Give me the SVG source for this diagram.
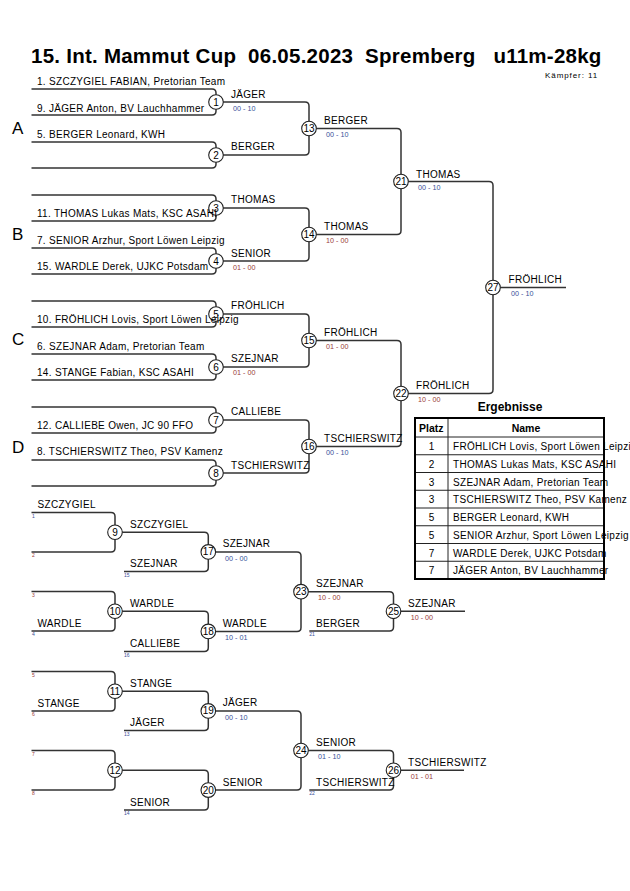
<svg xmlns="http://www.w3.org/2000/svg" width="630" height="891" viewBox="0 0 630 891">
<style>
.ln{fill:none;stroke:#333;stroke-width:1.5}
.c{fill:#fff;stroke:#222;stroke-width:1.1}
.n{font-family:"Liberation Sans",Arial,sans-serif;font-size:10px;text-anchor:middle;fill:#000}
.t{font-family:"Liberation Sans",Arial,sans-serif;font-size:10px;letter-spacing:0.3px;fill:#000}
.s{font-family:"Liberation Sans",Arial,sans-serif;font-size:7.2px}
.sr{fill:#9a3a3a}
.sb{fill:#3a4f9a}
.tiny{font-family:"Liberation Sans",Arial,sans-serif;font-size:5px}
.pool{font-family:"Liberation Sans",Arial,sans-serif;font-size:17px;fill:#000}
.b{font-family:"Liberation Sans",Arial,sans-serif;font-weight:bold;fill:#000}
.tl{fill:none;stroke:#222;stroke-width:1}
</style>
<rect width="630" height="891" fill="#fff"/>
<g id="title">
<text class="b" x="31" y="63.3" font-size="20.5" letter-spacing="0.25" xml:space="preserve">15. Int. Mammut Cup  06.05.2023  Spremberg   u11m-28kg</text>
<text x="598" y="78" font-family="Liberation Sans, Arial, sans-serif" font-size="8" letter-spacing="0.9" text-anchor="end">Kämpfer: 11</text>
</g>
<g id="pools">
<text class="pool" x="12" y="134">A</text>
<text class="pool" x="12" y="240">B</text>
<text class="pool" x="12" y="345">C</text>
<text class="pool" x="12" y="452.5">D</text>
</g>
<g id="connectors">
<path class="ln" d="M31.5,89 H212 Q216,89 216,93 V111 Q216,115 212,115 H31.5"/>
<path class="ln" d="M31.5,142 H212 Q216,142 216,146 V164 Q216,168 212,168 H31.5"/>
<path class="ln" d="M31.5,195 H212 Q216,195 216,199 V217 Q216,221 212,221 H31.5"/>
<path class="ln" d="M31.5,248 H212 Q216,248 216,252 V270 Q216,274 212,274 H31.5"/>
<path class="ln" d="M31.5,301 H212 Q216,301 216,305 V323 Q216,327 212,327 H31.5"/>
<path class="ln" d="M31.5,354 H212 Q216,354 216,358 V376 Q216,380 212,380 H31.5"/>
<path class="ln" d="M31.5,407 H212 Q216,407 216,411 V429 Q216,433 212,433 H31.5"/>
<path class="ln" d="M31.5,460 H212 Q216,460 216,464 V482 Q216,486 212,486 H31.5"/>
<path class="ln" d="M216,102 H305 Q309,102 309,106 V151 Q309,155 305,155 H216"/>
<path class="ln" d="M216,208 H305 Q309,208 309,212 V257 Q309,261 305,261 H216"/>
<path class="ln" d="M216,314 H305 Q309,314 309,318 V363 Q309,367 305,367 H216"/>
<path class="ln" d="M216,420 H305 Q309,420 309,424 V469 Q309,473 305,473 H216"/>
<path class="ln" d="M309,128.5 H397 Q401,128.5 401,132.5 V230.5 Q401,234.5 397,234.5 H309"/>
<path class="ln" d="M309,340.5 H397 Q401,340.5 401,344.5 V442.5 Q401,446.5 397,446.5 H309"/>
<path class="ln" d="M401,181.5 H489 Q493,181.5 493,185.5 V389.5 Q493,393.5 489,393.5 H401"/>
<path class="ln" d="M493,287.5 H566"/>
<path class="ln" d="M31.5,512.5 H111 Q115,512.5 115,516.5 V548 Q115,552 111,552 H31.5"/>
<path class="ln" d="M115,532.25 H204.3 Q208.3,532.25 208.3,536.25 V567.5 Q208.3,571.5 204.3,571.5 H124"/>
<path class="ln" d="M31.5,591.5 H111 Q115,591.5 115,595.5 V627 Q115,631 111,631 H31.5"/>
<path class="ln" d="M115,611.25 H204.3 Q208.3,611.25 208.3,615.25 V647.5 Q208.3,651.5 204.3,651.5 H124"/>
<path class="ln" d="M208.3,551.9 H297 Q301,551.9 301,555.9 V627.4 Q301,631.4 297,631.4 H208.3"/>
<path class="ln" d="M301,591.65 H389.5 Q393.5,591.65 393.5,595.65 V627 Q393.5,631 389.5,631 H309.3"/>
<path class="ln" d="M393.5,611.3 H465"/>
<path class="ln" d="M31.5,671.5 H111 Q115,671.5 115,675.5 V707 Q115,711 111,711 H31.5"/>
<path class="ln" d="M115,691.25 H204.3 Q208.3,691.25 208.3,695.25 V726.5 Q208.3,730.5 204.3,730.5 H124"/>
<path class="ln" d="M31.5,750.5 H111 Q115,750.5 115,754.5 V786 Q115,790 111,790 H31.5"/>
<path class="ln" d="M115,770.25 H204.3 Q208.3,770.25 208.3,774.25 V806 Q208.3,810 204.3,810 H124"/>
<path class="ln" d="M208.3,710.9 H297 Q301,710.9 301,714.9 V786.1 Q301,790.1 297,790.1 H208.3"/>
<path class="ln" d="M301,750.5 H389.5 Q393.5,750.5 393.5,754.5 V786 Q393.5,790 389.5,790 H309.3"/>
<path class="ln" d="M393.5,770.25 H464"/>
</g>
<g id="match1"><circle class="c" cx="216" cy="102" r="7.3"/><text class="n" x="216" y="105.5">1</text><text class="t" x="231" y="97.5">JÄGER</text><text class="s sb" x="233" y="110.7">00 - 10</text></g>
<g id="match2"><circle class="c" cx="216" cy="155" r="7.3"/><text class="n" x="216" y="158.5">2</text><text class="t" x="231" y="150.3">BERGER</text></g>
<g id="match3"><circle class="c" cx="216" cy="208" r="7.3"/><text class="n" x="216" y="211.5">3</text><text class="t" x="231" y="203.3">THOMAS</text></g>
<g id="match4"><circle class="c" cx="216" cy="261" r="7.3"/><text class="n" x="216" y="264.5">4</text><text class="t" x="231" y="256.5">SENIOR</text><text class="s sr" x="233" y="269.5">01 - 00</text></g>
<g id="match5"><circle class="c" cx="216" cy="314" r="7.3"/><text class="n" x="216" y="317.5">5</text><text class="t" x="231" y="309.3">FRÖHLICH</text></g>
<g id="match6"><circle class="c" cx="216" cy="367" r="7.3"/><text class="n" x="216" y="370.5">6</text><text class="t" x="231" y="362">SZEJNAR</text><text class="s sr" x="233" y="375.3">01 - 00</text></g>
<g id="match7"><circle class="c" cx="216" cy="420" r="7.3"/><text class="n" x="216" y="423.5">7</text><text class="t" x="231" y="415.3">CALLIEBE</text></g>
<g id="match8"><circle class="c" cx="216" cy="473" r="7.3"/><text class="n" x="216" y="476.5">8</text><text class="t" x="231" y="469">TSCHIERSWITZ</text></g>
<g id="match13"><circle class="c" cx="309" cy="128.5" r="7.3"/><text class="n" x="309" y="132">13</text><text class="t" x="324" y="124.3">BERGER</text><text class="s sb" x="326" y="137">00 - 10</text></g>
<g id="match14"><circle class="c" cx="309" cy="234.5" r="7.3"/><text class="n" x="309" y="238">14</text><text class="t" x="324" y="230.2">THOMAS</text><text class="s sr" x="326" y="243.3">10 - 00</text></g>
<g id="match15"><circle class="c" cx="309" cy="340.5" r="7.3"/><text class="n" x="309" y="344">15</text><text class="t" x="324" y="336">FRÖHLICH</text><text class="s sr" x="326" y="349">01 - 00</text></g>
<g id="match16"><circle class="c" cx="309" cy="446.5" r="7.3"/><text class="n" x="309" y="450">16</text><text class="t" x="324" y="441.5">TSCHIERSWITZ</text><text class="s sb" x="326" y="455">00 - 10</text></g>
<g id="match21"><circle class="c" cx="401" cy="181.5" r="7.3"/><text class="n" x="401" y="185">21</text><text class="t" x="416" y="177.5">THOMAS</text><text class="s sb" x="418" y="190">00 - 10</text></g>
<g id="match22"><circle class="c" cx="401" cy="393.5" r="7.3"/><text class="n" x="401" y="397">22</text><text class="t" x="416" y="388.7">FRÖHLICH</text><text class="s sr" x="418" y="402">10 - 00</text></g>
<g id="match27"><circle class="c" cx="493" cy="287.5" r="7.3"/><text class="n" x="493" y="291">27</text><text class="t" x="508.5" y="283">FRÖHLICH</text><text class="s sb" x="511" y="296">00 - 10</text></g>
<g id="entries">
<text class="t" x="37" y="85">1. SZCZYGIEL FABIAN, Pretorian Team</text>
<text class="t" x="37" y="111.5">9. JÄGER Anton, BV Lauchhammer</text>
<text class="t" x="37" y="138">5. BERGER Leonard, KWH</text>
<text class="t" x="37" y="217">11. THOMAS Lukas Mats, KSC ASAHI</text>
<text class="t" x="37" y="243.5">7. SENIOR Arzhur, Sport Löwen Leipzig</text>
<text class="t" x="37" y="270">15. WARDLE Derek, UJKC Potsdam</text>
<text class="t" x="37" y="323">10. FRÖHLICH Lovis, Sport Löwen Leipzig</text>
<text class="t" x="37" y="349.5">6. SZEJNAR Adam, Pretorian Team</text>
<text class="t" x="37" y="375.5">14. STANGE Fabian, KSC ASAHI</text>
<text class="t" x="37" y="428.5">12. CALLIEBE Owen, JC 90 FFO</text>
<text class="t" x="37" y="455">8. TSCHIERSWITZ Theo, PSV Kamenz</text>
</g>
<g id="repechage-entries">
<text class="t" x="37.5" y="508">SZCZYGIEL</text>
<text class="t" x="37.5" y="626.7">WARDLE</text>
<text class="t" x="37.5" y="706.7">STANGE</text>
<text class="t" x="130" y="567">SZEJNAR</text>
<text class="t" x="130" y="646.7">CALLIEBE</text>
<text class="t" x="130" y="726">JÄGER</text>
<text class="t" x="130" y="805.7">SENIOR</text>
<text class="t" x="316" y="626.7">BERGER</text>
<text class="t" x="316" y="785.7">TSCHIERSWITZ</text>
<text class="tiny sb" x="32" y="517.5">1</text>
<text class="tiny sr" x="32" y="557">2</text>
<text class="tiny sr" x="32" y="596.5">3</text>
<text class="tiny sb" x="32" y="636">4</text>
<text class="tiny sr" x="32" y="676.5">5</text>
<text class="tiny sr" x="32" y="716">6</text>
<text class="tiny sr" x="32" y="755.5">7</text>
<text class="tiny sr" x="32" y="795">8</text>
<text class="tiny sb" x="124" y="576.5">15</text>
<text class="tiny sb" x="124" y="656.5">16</text>
<text class="tiny sb" x="124" y="735.5">13</text>
<text class="tiny sb" x="124" y="815">14</text>
<text class="tiny sb" x="309.3" y="636">21</text>
<text class="tiny sb" x="309.3" y="795">22</text>
</g>
<g id="match9"><circle class="c" cx="115" cy="532.25" r="7.3"/><text class="n" x="115" y="535.75">9</text><text class="t" x="130" y="527.5">SZCZYGIEL</text></g>
<g id="match10"><circle class="c" cx="115" cy="611.25" r="7.3"/><text class="n" x="115" y="614.75">10</text><text class="t" x="130" y="606.7">WARDLE</text></g>
<g id="match11"><circle class="c" cx="115" cy="691.25" r="7.3"/><text class="n" x="115" y="694.75">11</text><text class="t" x="130" y="686.5">STANGE</text></g>
<g id="match12"><circle class="c" cx="115" cy="770.25" r="7.3"/><text class="n" x="115" y="773.75">12</text></g>
<g id="match17"><circle class="c" cx="208.3" cy="551.9" r="7.3"/><text class="n" x="208.3" y="555.4">17</text><text class="t" x="222.7" y="547.3">SZEJNAR</text><text class="s sb" x="225" y="560.5">00 - 00</text></g>
<g id="match18"><circle class="c" cx="208.3" cy="631.4" r="7.3"/><text class="n" x="208.3" y="634.9">18</text><text class="t" x="222.7" y="626.9">WARDLE</text><text class="s sb" x="225" y="640">10 - 01</text></g>
<g id="match19"><circle class="c" cx="208.3" cy="710.9" r="7.3"/><text class="n" x="208.3" y="714.4">19</text><text class="t" x="222.7" y="706.3">JÄGER</text><text class="s sb" x="225" y="719.5">00 - 10</text></g>
<g id="match20"><circle class="c" cx="208.3" cy="790.1" r="7.3"/><text class="n" x="208.3" y="793.6">20</text><text class="t" x="222.7" y="785.7">SENIOR</text></g>
<g id="match23"><circle class="c" cx="301" cy="591.65" r="7.3"/><text class="n" x="301" y="595.15">23</text><text class="t" x="316" y="587.3">SZEJNAR</text><text class="s sr" x="318" y="600">10 - 00</text></g>
<g id="match24"><circle class="c" cx="301" cy="750.5" r="7.3"/><text class="n" x="301" y="754">24</text><text class="t" x="316" y="746.3">SENIOR</text><text class="s sb" x="318" y="759.3">01 - 10</text></g>
<g id="match25"><circle class="c" cx="393.5" cy="611.3" r="7.3"/><text class="n" x="393.5" y="614.8">25</text><text class="t" x="408" y="606.7">SZEJNAR</text><text class="s sr" x="410.7" y="619.5">10 - 00</text></g>
<g id="match26"><circle class="c" cx="393.5" cy="770.25" r="7.3"/><text class="n" x="393.5" y="773.75">26</text><text class="t" x="408" y="765.7">TSCHIERSWITZ</text><text class="s sr" x="410.7" y="779.3">01 - 01</text></g>
<g id="results">
<text class="b" x="510" y="411" font-size="12" text-anchor="middle">Ergebnisse</text>
<text class="b" x="419" y="432" font-size="10.5">Platz</text>
<text class="b" x="526" y="432" font-size="10.5" text-anchor="middle">Name</text>
<g class="n">
<text x="431.5" y="450">1</text>
<text x="431.5" y="467.75">2</text>
<text x="431.5" y="485.5">3</text>
<text x="431.5" y="503.25">3</text>
<text x="431.5" y="521">5</text>
<text x="431.5" y="538.75">5</text>
<text x="431.5" y="556.5">7</text>
<text x="431.5" y="574.25">7</text>
</g>
<text class="t" x="453" y="450">FRÖHLICH Lovis, Sport Löwen Leipzig</text>
<text class="t" x="453" y="467.75">THOMAS Lukas Mats, KSC ASAHI</text>
<text class="t" x="453" y="485.5">SZEJNAR Adam, Pretorian Team</text>
<text class="t" x="453" y="503.25">TSCHIERSWITZ Theo, PSV Kamenz</text>
<text class="t" x="453" y="521">BERGER Leonard, KWH</text>
<text class="t" x="453" y="538.75">SENIOR Arzhur, Sport Löwen Leipzig</text>
<text class="t" x="453" y="556.5">WARDLE Derek, UJKC Potsdam</text>
<text class="t" x="453" y="574.25">JÄGER Anton, BV Lauchhammer</text>
<path class="tl" d="M415,437 H604 M415,454.75 H604 M415,472.5 H604 M415,490.25 H604 M415,508 H604 M415,525.75 H604 M415,543.5 H604 M415,561.25 H604 M448,418 V579"/>
<rect x="415" y="418" width="189" height="161" fill="none" stroke="#000" stroke-width="2"/>
</g>
</svg>
